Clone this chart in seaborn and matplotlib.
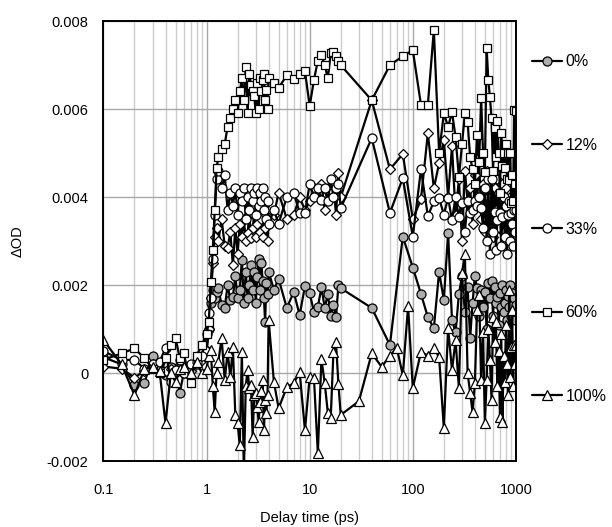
import numpy as np
import pandas as pd
import matplotlib
matplotlib.use("Agg")
import matplotlib.pyplot as plt
import seaborn as sns
from matplotlib.lines import Line2D
from matplotlib.ticker import LogLocator, NullFormatter

nan = float("nan")

# delay times (ps)
time_ps = [0.1, 0.15, 0.2, 0.25, 0.3, 0.35, 0.4, 0.45, 0.5, 0.55, 0.6, 0.7, 0.8, 0.9,
           1.0, 1.05, 1.1, 1.15, 1.2, 1.25, 1.3, 1.4, 1.5, 1.6, 1.7, 1.8, 1.9, 2.0,
           2.1, 2.2, 2.3, 2.4, 2.5, 2.6, 2.7, 2.8, 2.9, 3.0, 3.1, 3.2, 3.3, 3.4, 3.5,
           3.6, 3.7, 3.8, 3.9, 4.0,
           4.5, 5, 6, 7, 8, 9, 10, 11, 12, 13, 14, 15, 16, 17, 18, 19, 20,
           30, 40, 50, 60, 70, 80, 90, 100, 120, 140, 160,
           180, 200, 220, 240, 260, 280, 300, 320, 340, 360, 380, 400, 420, 440,
           460, 480, 500, 520, 540, 560, 580, 600, 620, 640, 660, 680, 700, 720,
           740, 760, 780, 800, 820, 840, 860, 880, 900, 920, 940, 960, 980, 1000]

# ΔOD values in units of 10^-3
od_0 = [0.36, 0.20, -0.27, -0.23, 0.40, 0.10, -0.05, 0.15, 0.05, -0.45, 0.00, 0.10, 0.20, 0.35,
        0.50, 1.00, 1.60, 1.90, 1.70, 1.84, 1.93, 1.55, 1.48, 2.00, 1.66, 1.73, 2.20, 1.70,
        1.90, 2.57, 1.60, 2.30, 1.70, 2.00, 2.45, 1.89, 2.30, 1.60, 2.18, 2.60, 1.90, 2.50,
        2.10, 1.70, 1.16, 2.05, 1.80, 2.30,
        1.90, 2.14, 1.48, 1.84, 1.32, 1.98, 1.82, 1.39, 1.50, 1.95, 1.48, 1.80, 1.30, 1.55,
        1.27, 2.00, 1.93,
        nan, 1.48, nan, 0.64, nan, 3.10, nan, 2.40, 1.80, 1.27, 1.02,
        2.30, 1.66, 3.18, 1.20, 0.93, 1.80, 2.20, 1.40, 1.95, 0.80, 1.60, 2.20, 1.93, 1.30,
        1.90, 1.50, 1.84, 1.00, 2.05, 1.70, 2.10, 1.30, 1.95, 1.60, 1.73, 1.10, 1.82, 1.50,
        2.00, 1.40, 1.60, 1.90, 1.20, 1.75, 1.50, 2.00, 1.30, 1.82, 1.55, 1.70, 1.20, 1.55]

od_12 = [0.15, 0.10, -0.10, 0.05, 0.20, 0.10, 0.05, 0.10, 0.00, 0.20, 0.15, 0.05, 0.25, 0.30,
         0.50, 1.00, 1.70, 2.50, 3.10, 3.30, 3.00, 3.50, 2.90, 2.85, 3.20, 2.45, 3.30, 2.70,
         3.40, 3.10, 3.50, 3.00, 3.18, 3.60, 3.07, 3.30, 3.60, 3.10, 3.40, 3.70, 3.20, 3.50,
         3.10, 3.80, 3.30, 3.60, 3.00, 3.40,
         3.60, 4.10, 3.50, 3.60, 4.00, 3.70, 3.90, 4.20, 4.00, 4.30, 3.70, 4.20, 4.10, 4.30,
         3.60, 4.55, 4.00,
         nan, 6.20, nan, 4.63, nan, 4.98, nan, 3.50, 3.95, 5.45, 4.20,
         4.77, 5.30, 4.00, 5.15, 3.60, 4.40, 3.00, 4.60, 3.90, 4.20, 3.40, 4.50, 3.80, 4.90,
         3.50, 4.30, 3.20, 4.60, 4.00, 3.40, 4.50, 3.10, 4.20, 3.70, 4.40, 3.30, 4.00, 3.60,
         4.30, 3.20, 3.90, 4.20, 3.40, 3.80, 2.90, 4.00, 3.50, 3.10, 3.80, 3.30, 4.50, 3.40]

od_33 = [0.50, 0.30, 0.30, 0.10, 0.20, 0.25, 0.57, -0.20, 0.07, 0.30, 0.00, 0.20, 0.25, 0.40,
         0.90, 1.36, 1.70, 2.60, 3.60, 4.40, 4.60, 4.20, 4.50, 3.70, 4.10, 3.80, 4.20, 3.60,
         4.10, 3.90, 4.20, 3.50, 4.00, 3.70, 4.20, 3.90, 4.10, 3.60, 4.20, 3.80, 4.10, 3.90,
         4.20, 3.70, 4.00, 3.50, 3.90, 3.40,
         3.70, 3.40, 4.00, 4.10, 3.64, 3.64, 4.30, 4.00, 4.20, 3.93, 4.20, 3.90, 4.40, 4.00,
         4.20, 4.30, 3.75,
         nan, 5.34, nan, 3.64, nan, 4.43, nan, 3.10, 4.63, 3.57, 3.90,
         3.98, 3.60, 3.98, 3.48, 4.00, 3.55, 3.86, 3.20, 3.90, 3.64, 3.70, 3.90, 3.80, 4.00,
         3.75, 3.30, 4.20, 3.00, 4.40, 2.70, 4.40, 3.20, 3.66, 2.80, 3.48, 4.10, 3.64, 2.90,
         3.55, 4.00, 3.10, 3.80, 2.70, 3.60, 3.90, 3.00, 3.64, 3.40, 2.90, 3.70, 3.20, 3.70]

od_60 = [0.30, 0.45, 0.56, 0.34, 0.10, 0.00, 0.34, 0.63, 0.80, 0.34, 0.45, -0.23, 0.40, 0.63,
         0.90, 1.16, 2.07, 2.80, 3.70, 4.66, 4.90, 5.10, 5.20, 5.60, 5.80, 6.00, 6.20, 5.90,
         6.40, 6.70, 6.20, 6.95, 5.90, 6.80, 6.55, 6.40, 6.30, 5.90, 6.60, 6.00, 6.70, 6.40,
         6.66, 6.80, 6.20, 6.43, 6.00, 6.70,
         6.60, 6.48, 6.77, 6.68, 6.80, 6.86, 6.07, 6.66, 7.10, 7.23, 7.00, 6.70, 7.27, 7.30,
         7.20, 7.10, 7.00,
         nan, 6.20, nan, 7.00, nan, 7.20, nan, 7.34, 6.10, 6.10, 7.80,
         5.00, 5.90, 5.60, 5.93, 5.36, 4.45, 5.20, 5.90, 5.70, 4.90, 4.64, 4.30, 5.40, 4.80,
         6.25, 5.00, 4.57, 7.39, 6.66, 6.27, 5.80, 4.60, 5.57, 4.90, 5.73, 5.00, 4.10, 5.45,
         4.70, 5.00, 4.66, 5.20, 4.40, 5.00, 4.39, 5.00, 3.86, 4.50, 3.90, 5.98, 4.30, 5.95]

od_100 = [0.75, 0.20, -0.50, 0.10, 0.14, 0.05, -1.14, 0.00, -0.20, 0.10, 0.14, 0.00, 0.25, 0.00,
          0.10, 0.40, 0.52, -0.30, -0.89, 0.00, 0.25, 0.80, -0.16, 0.48, -0.09, 0.60, -0.95, -1.14,
          -1.64, 0.48, -2.30, -0.30, 0.07, -0.34, -0.27, -1.45, -0.50, -0.45, -0.77, -1.10, -0.66, -0.40,
          -0.16, -1.30, -0.60, -0.90, -0.50, 1.20,
          -0.20, -0.80, -0.32, -0.23, 0.02, -1.30, -0.09, -0.11, -1.82, 0.32, -0.23, -0.90, -1.02, 0.48,
          0.70, -0.25, -0.95,
          -0.64, 0.45, 0.14, 0.40, 0.57, -0.05, 1.52, -0.34, 0.48, 0.40, 0.57,
          0.36, -1.25, 1.02, 0.07, 0.75, -0.34, 2.27, 2.70, 0.00, -0.45, -0.89, -0.23, 1.43, 1.77,
          -0.16, 0.93, -1.14, -0.16, 1.00, 0.30, -0.60, 1.27, 0.70, 1.16, -0.30, 0.50, -1.00, 0.90,
          -1.11, 0.40, -0.20, 1.10, 0.20, -0.50, 1.89, -0.09, 0.60, 1.43, -0.30, 0.64, 0.20, 0.64]

labels = ["0%", "12%", "33%", "60%", "100%"]
x_ticks = [0.1, 1, 10, 100, 1000]
x_tick_labels = ["0.1", "1", "10", "100", "1000"]
y_ticks = [-0.002, 0, 0.002, 0.004, 0.006, 0.008]
y_tick_labels = ["-0.002", "0", "0.002", "0.004", "0.006", "0.008"]

frames = []
for lab, vals in zip(labels, [od_0, od_12, od_33, od_60, od_100]):
    frames.append(pd.DataFrame({"t": time_ps, "od_m": vals, "sample": lab}))
df = pd.concat(frames, ignore_index=True).dropna()
df["od"] = df["od_m"] * 1e-3

sns.set_theme(style="white")
plt.rcParams["font.family"] = ["Liberation Sans", "DejaVu Sans"]
plt.rcParams["text.color"] = "black"
plt.rcParams["axes.labelcolor"] = "black"
plt.rcParams["xtick.color"] = "black"
plt.rcParams["ytick.color"] = "black"

fig = plt.figure(figsize=(6.12, 5.27), dpi=100)
ax = fig.add_axes([0.169, 0.125, 0.674, 0.835])

styles = {
    "0%":   dict(marker="o", markersize=6.5, markerfacecolor="#adadad"),
    "12%":  dict(marker="D", markersize=5.5, markerfacecolor="white"),
    "33%":  dict(marker="o", markersize=6.5, markerfacecolor="white"),
    "60%":  dict(marker="s", markersize=6.0, markerfacecolor="white"),
    "100%": dict(marker="^", markersize=7.0, markerfacecolor="white"),
}

for lab in labels:
    sub = df[df["sample"] == lab]
    sns.lineplot(data=sub, x="t", y="od", ax=ax, color="black", lw=1.6,
                 markeredgecolor="black", markeredgewidth=0.9,
                 estimator=None, sort=False, legend=False, **styles[lab])

ax.set_xscale("log")
ax.set_xlim(0.1, 1000)
ax.set_ylim(-0.002, 0.008)
ax.set_xticks(x_ticks)
ax.set_xticklabels(x_tick_labels)
ax.xaxis.set_minor_locator(LogLocator(base=10, subs=[2, 3, 4, 5, 6, 7, 8, 9]))
ax.xaxis.set_minor_formatter(NullFormatter())
ax.set_yticks(y_ticks)
ax.set_yticklabels(y_tick_labels)

ax.grid(which="major", axis="both", color="#a8a8a8", lw=1.0)
ax.grid(which="minor", axis="x", color="#cccccc", lw=1.0)
ax.set_axisbelow(True)

ax.tick_params(axis="x", which="both", length=0, pad=16, labelsize=10.5, colors="black")
ax.tick_params(axis="y", which="both", direction="in", length=4, width=1, pad=11,
               labelsize=10.5, colors="black")
for sp in ax.spines.values():
    sp.set_color("black")
    sp.set_linewidth(1.4)

ax.set_xlabel("Delay time (ps)", fontsize=10.5, labelpad=10, color="black")
ax.set_ylabel("ΔOD", fontsize=10.5, color="black")
ax.yaxis.set_label_coords(-0.19, 0.5)

handles = []
for lab in labels:
    handles.append(Line2D([0], [0], color="black", lw=1.6, markeredgecolor="black",
                          markeredgewidth=0.9, **styles[lab]))
leg = fig.legend(handles, labels, loc="upper left", bbox_to_anchor=(0.869, 0.897),
                 frameon=False, fontsize=11.5, labelspacing=4.3, handlelength=1.9,
                 handletextpad=0.2, borderaxespad=0, borderpad=0)
for txt in leg.get_texts():
    txt.set_color("black")

fig.savefig("out.png", dpi=100)
